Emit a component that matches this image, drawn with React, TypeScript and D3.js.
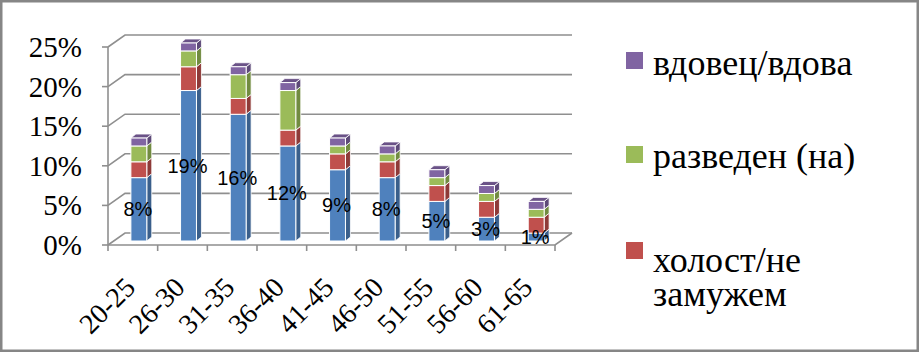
import React from 'react';
import * as d3 from 'd3';

const categories = ['20-25', '26-30', '31-35', '36-40', '41-45', '46-50', '51-55', '56-60', '61-65'];
// shares in %
const married = [8, 19, 16, 12, 9, 8, 5, 3, 1];
const single = [2, 3, 2, 2, 2, 2, 2, 2, 2];
const divorced = [2, 2, 3, 5, 1, 1, 1, 1, 1];
const widowed = [1, 1, 1, 1, 1, 1, 1, 1, 1];
const yTicks = [0, 5, 10, 15, 20, 25];
const seriesKeys = ['married', 'single', 'divorced', 'widowed'];
const legendItems = [
    { key: 'widowed', lines: ['вдовец/вдова'] },
    { key: 'divorced', lines: ['разведен (на)'] },
    { key: 'single', lines: ['холост/не', 'замужем'] },
];

const frontColors = { married: '#4F81BD', single: '#C0504D', divorced: '#9BBB59', widowed: '#8064A2' };
const sideColors = { married: '#3A5F8B', single: '#8E3A38', divorced: '#718B40', widowed: '#5D4978' };
const topColors = { married: '#6A93C8', single: '#B24A47', divorced: '#86A34B', widowed: '#6A5287' };

const W = 919;
const H = 352;

const left = 108, right = 555, base = 245;
const wall = { dx: 17, dy: -12 };
const barFront = { dx: 6, dy: -4 };
const barDepth = { dx: 5, dy: -4 };
const gridColor = '#8f8f8f';

const css = `
.serif-txt { font-family: 'Liberation Serif'; }
.sans-txt { font-family: 'Liberation Sans'; }
`;

const App = () => {
    const xScale = d3.scaleBand()
        .domain(categories)
        .range([left, right])
        .paddingInner(0.68)
        .paddingOuter(0.34);
    const step = xScale.step();
    const bw = xScale.bandwidth();

    const yScale = d3.scaleLinear().domain([0, 25]).range([base, 47]);

    const table = categories.map((c, i) => ({
        cat: c,
        married: married[i],
        single: single[i],
        divorced: divorced[i],
        widowed: widowed[i],
    }));
    const stacked = d3.stack().keys(seriesKeys)(table);

    const legendSquareY = [52, 146, 242];
    const legendBaseY = [75, 168, 272];

    return (
        <svg width={W} height={H} style={{ position: 'absolute', left: 0, top: 0 }}>
            <style>{css}</style>
            {/* outer frame */}
            <rect x={1.25} y={1.25} width={W - 2.5} height={H - 2.5}
                fill="white" stroke="#868686" strokeWidth={2.5} />

            {/* walls */}
            <g className="grid" fill="none" stroke={gridColor} strokeWidth={1.6}>
                {yTicks.map(t => {
                    const y = yScale(t);
                    return (
                        <path key={t}
                            d={`M${left},${y} L${left + wall.dx},${y + wall.dy} L${right + wall.dx},${y + wall.dy}`} />
                    );
                })}
                <path d={`M${left},${base} L${right},${base} L${right + wall.dx},${base + wall.dy}`} />
                <line x1={left} x2={left} y1={yScale(25)} y2={base} />
                {yTicks.map(t => (
                    <line key={'t' + t} x1={left - 6} x2={left} y1={yScale(t)} y2={yScale(t)} />
                ))}
                {d3.range(categories.length + 1).map(i => (
                    <line key={'x' + i} x1={left + i * step} x2={left + i * step} y1={base} y2={base + 6} />
                ))}
            </g>

            {/* y labels */}
            {yTicks.map(t => (
                <text key={'yl' + t} className="serif-txt" x={82} y={yScale(t) + 10} textAnchor="end" fontSize={29}>
                    {t + '%'}
                </text>
            ))}

            {/* x labels */}
            {categories.map(c => {
                const cx = xScale(c) + bw / 2;
                return (
                    <text key={'xl' + c} className="serif-txt" transform={`translate(${cx + 4},${base + 44}) rotate(-45)`}
                        textAnchor="end" fontSize={28}>
                        {c}
                    </text>
                );
            })}

            {/* bars */}
            <g className="bars">
                {stacked.map((layer, li) => layer.map((d, i) => {
                    const key = layer.key;
                    if (d[1] - d[0] <= 0) return null;
                    const x0 = xScale(categories[i]) + barFront.dx;
                    const x1 = x0 + bw;
                    const yTop = yScale(d[1]) + barFront.dy;
                    const yBot = yScale(d[0]) + barFront.dy;
                    return (
                        <g key={key + i}>
                            <path
                                d={`M${x1},${yTop} L${x1 + barDepth.dx},${yTop + barDepth.dy} L${x1 + barDepth.dx},${yBot + barDepth.dy} L${x1},${yBot} Z`}
                                fill={sideColors[key]} stroke="white" strokeWidth={0.8} />
                            {li === stacked.length - 1 && (
                                <path
                                    d={`M${x0},${yTop} L${x0 + barDepth.dx},${yTop + barDepth.dy} L${x1 + barDepth.dx},${yTop + barDepth.dy} L${x1},${yTop} Z`}
                                    fill={topColors[key]} stroke="white" strokeWidth={0.8} />
                            )}
                            <rect x={x0} y={yTop} width={bw} height={yBot - yTop}
                                fill={frontColors[key]} stroke="white" strokeWidth={1} />
                        </g>
                    );
                }))}
            </g>

            {/* data labels on the blue series */}
            {stacked[0].map((d, i) => (
                <text key={'dl' + i} className="sans-txt"
                    x={xScale(categories[i]) + barFront.dx + bw / 2 - 1}
                    y={(yScale(d[0]) + yScale(d[1])) / 2 + barFront.dy + 7}
                    textAnchor="middle" fontSize={20}>
                    {married[i] + '%'}
                </text>
            ))}

            {/* legend */}
            <g className="legend">
                {legendItems.map((item, i) => (
                    <g key={item.key}>
                        <rect x={626} y={legendSquareY[i]} width={17} height={17} fill={frontColors[item.key]} />
                        {item.lines.map((ln, j) => (
                            <text key={ln} className="serif-txt" x={653} y={legendBaseY[i] + j * 34} fontSize={36}>
                                {ln}
                            </text>
                        ))}
                    </g>
                ))}
            </g>
        </svg>
    );
};

export default App;
